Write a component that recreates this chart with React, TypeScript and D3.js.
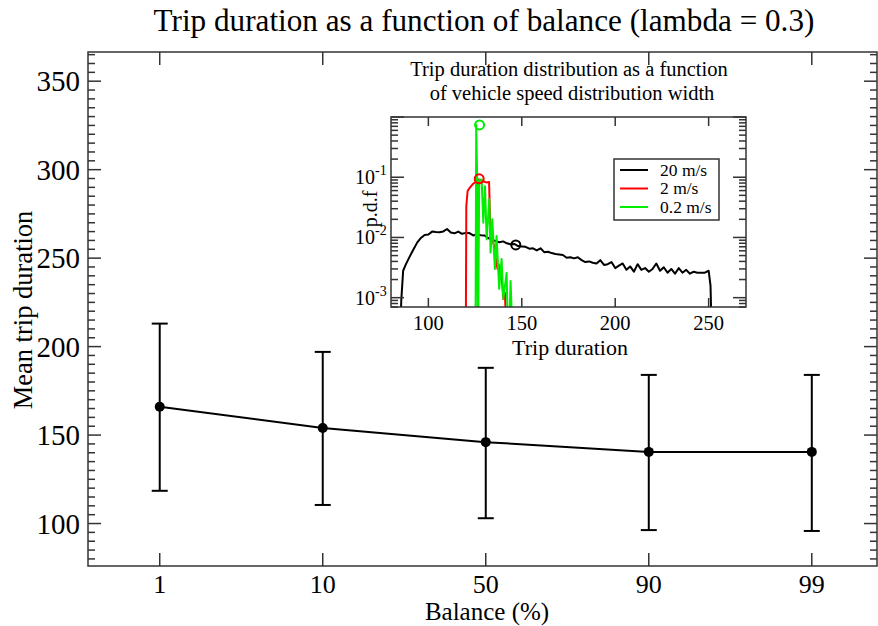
import React, { useEffect, useRef } from "react"
import * as d3 from "d3"

// main chart data
const balances = ["1", "10", "50", "90", "99"]
const meanDuration = [166, 154, 146, 140.5, 140.5]
const upperDuration = [213, 197, 188, 184, 184]
const lowerDuration = [118.5, 110.5, 103, 96.3, 95.8]
const yTicks = [100, 150, 200, 250, 300, 350]

// inset data: [trip duration, p.d.f]
const pdf20: [number, number][] = [
  [84.5, 1e-4], [85.5, 0.0009], [86.5, 0.0028], [88, 0.0036], [90, 0.0048], [92, 0.0063],
  [94, 0.0082], [96, 0.0098], [98, 0.011], [100, 0.0112], [102, 0.0125], [104, 0.0123],
  [106, 0.0122], [108, 0.0126], [110, 0.0138], [112, 0.0121], [114, 0.0117], [116, 0.0125],
  [118, 0.0115], [120, 0.0119], [122, 0.0118], [124, 0.0108], [126, 0.0113], [128, 0.0109],
  [130, 0.0108], [132, 0.0098], [134, 0.0092], [136, 0.0087], [138, 0.0083], [140, 0.0086],
  [142, 0.008], [144, 0.0077], [146, 0.0078], [148, 0.0072], [150, 0.0071], [152, 0.007],
  [154, 0.0065], [156, 0.0066], [158, 0.0061], [160, 0.0066], [162, 0.0057], [164, 0.0058],
  [166, 0.0055], [168, 0.0053], [170, 0.0052], [172, 0.0051], [174, 0.0046], [176, 0.0047],
  [178, 0.0045], [180, 0.0047], [182, 0.0042], [184, 0.0039], [186, 0.004], [188, 0.0038],
  [190, 0.0037], [192, 0.0042], [194, 0.0035], [196, 0.0036], [198, 0.0039], [200, 0.0031],
  [202, 0.0034], [204, 0.0037], [206, 0.0029], [208, 0.0033], [210, 0.0027], [212, 0.0036],
  [214, 0.0029], [216, 0.0031], [218, 0.0027], [220, 0.003], [222, 0.0037], [224, 0.0028],
  [226, 0.0032], [228, 0.0026], [230, 0.003], [232, 0.0025], [234, 0.0031], [236, 0.0026],
  [238, 0.0029], [240, 0.0025], [242, 0.0027], [244, 0.0026], [246, 0.0026], [248, 0.0026],
  [250, 0.0028], [251, 0.0016], [252, 1e-4],
]
const pdf2: [number, number][] = [
  [120, 1e-4], [120.3, 0.033], [121, 0.059], [122, 0.066], [123, 0.072], [124, 0.078],
  [125, 0.082], [126, 0.088], [127, 0.092], [128, 0.088], [129, 0.086], [130, 0.084],
  [131, 0.082], [132.5, 0.083], [133.2, 0.0106], [134, 0.0095], [135.3, 0.0072],
  [136, 0.0045], [137, 0.003], [137.6, 0.0036], [138.4, 0.0021], [139.2, 0.0024],
  [140.1, 0.00095], [141, 0.0012], [142, 1e-4],
]
const pdf02: [number, number][] = [
  [125.2, 1e-4], [125.6, 0.74], [126.1, 0.1], [126.6, 1e-4], [127.2, 0.09], [128.5, 0.092],
  [129.4, 0.0176], [130.3, 0.071], [131.2, 0.0093], [132.6, 0.043], [133.3, 0.0056],
  [134.2, 0.02], [135.6, 0.003], [136.5, 0.0106], [137.9, 0.0014], [139.2, 0.0044],
  [140.1, 0.00095], [141.9, 0.0026], [142.8, 1e-4], [144, 0.0019], [145.5, 1e-4],
]
const meanMarkers: [number, number, string][] = [
  [146.8, 0.0075, "#000000"],
  [127.2, 0.094, "#ff0000"],
  [127.4, 0.74, "#00ee00"],
]
const legendItems = [
  { label: "20 m/s", color: "#000000" },
  { label: "2 m/s", color: "#ff0000" },
  { label: "0.2 m/s", color: "#00ee00" },
]
const insetXTicks = [100, 150, 200, 250]
const insetYTicks = [-3, -2, -1]

const font = "'Liberation Serif', 'Times New Roman', serif"

const App = () => {
  const chart = useRef<SVGSVGElement | null>(null)

  useEffect(() => {
    const svg = d3.select(chart.current)
    svg.selectAll("*").remove()

    const frameColor = "#333"
    const m = { left: 88, right: 877, top: 52, bottom: 566 }

    const x = d3.scaleLinear().domain([0.56, 5.4]).range([m.left, m.right])
    const y = d3.scaleLinear().domain([76, 366.5]).range([m.bottom, m.top])

    // title
    svg
      .append("text")
      .attr("x", 484)
      .attr("y", 31)
      .attr("text-anchor", "middle")
      .attr("font-size", 31.2)
      .text("Trip duration as a function of balance (lambda = 0.3)")

    // frame
    svg
      .append("rect")
      .attr("x", m.left)
      .attr("y", m.top)
      .attr("width", m.right - m.left)
      .attr("height", m.bottom - m.top)
      .attr("fill", "none")
      .attr("stroke", frameColor)
      .attr("stroke-width", 1.5)

    // y ticks (major + minor, both sides, inward)
    const g = svg.append("g").attr("stroke", frameColor).attr("stroke-width", 1.5)
    for (const v of d3.range(80, 366, 5)) {
      const major = v % 50 === 0
      const len = major ? 13 : 7
      g.append("line").attr("x1", m.left).attr("x2", m.left + len).attr("y1", y(v)).attr("y2", y(v))
      g.append("line").attr("x1", m.right).attr("x2", m.right - len).attr("y1", y(v)).attr("y2", y(v))
    }
    balances.forEach((b, i) => {
      g.append("line").attr("x1", x(i + 1)).attr("x2", x(i + 1)).attr("y1", m.bottom).attr("y2", m.bottom - 13)
      g.append("line").attr("x1", x(i + 1)).attr("x2", x(i + 1)).attr("y1", m.top).attr("y2", m.top + 13)
    })

    svg
      .append("g")
      .selectAll("text")
      .data(yTicks)
      .join("text")
      .attr("x", 80)
      .attr("y", (d) => y(d) + 10)
      .attr("text-anchor", "end")
      .attr("font-size", 29)
      .text((d) => d)

    svg
      .append("g")
      .selectAll("text")
      .data(balances)
      .join("text")
      .attr("x", (d, i) => x(i + 1))
      .attr("y", 593)
      .attr("text-anchor", "middle")
      .attr("font-size", 26)
      .text((d) => d)

    svg
      .append("text")
      .attr("x", 487)
      .attr("y", 620)
      .attr("text-anchor", "middle")
      .attr("font-size", 25)
      .text("Balance (%)")

    svg
      .append("text")
      .attr("transform", `translate(32,310) rotate(-90)`)
      .attr("text-anchor", "middle")
      .attr("font-size", 26.5)
      .text("Mean trip duration")

    // error bars
    const eb = svg.append("g").attr("stroke", "#000").attr("stroke-width", 2)
    balances.forEach((b, i) => {
      const cx = x(i + 1)
      eb.append("line").attr("x1", cx).attr("x2", cx).attr("y1", y(upperDuration[i])).attr("y2", y(lowerDuration[i]))
      eb.append("line").attr("x1", cx - 8).attr("x2", cx + 8).attr("y1", y(upperDuration[i])).attr("y2", y(upperDuration[i]))
      eb.append("line").attr("x1", cx - 8).attr("x2", cx + 8).attr("y1", y(lowerDuration[i])).attr("y2", y(lowerDuration[i]))
    })

    const line = d3
      .line<number>()
      .x((d, i) => x(i + 1))
      .y((d) => y(d))
    svg
      .append("path")
      .attr("d", line(meanDuration))
      .attr("fill", "none")
      .attr("stroke", "#000")
      .attr("stroke-width", 2)

    svg
      .append("g")
      .selectAll("circle")
      .data(meanDuration)
      .join("circle")
      .attr("cx", (d, i) => x(i + 1))
      .attr("cy", (d) => y(d))
      .attr("r", 5)
      .attr("fill", "#000")

    // ---------- inset ----------
    const im = { left: 391, right: 746, top: 117, bottom: 307 }
    const ix = d3.scaleLinear().domain([80, 270]).range([im.left, im.right])
    const iy = d3.scaleLog().domain([7e-4, 1]).range([im.bottom, im.top])

    svg
      .append("rect")
      .attr("x", im.left)
      .attr("y", im.top)
      .attr("width", im.right - im.left)
      .attr("height", im.bottom - im.top)
      .attr("fill", "#fff")

    svg
      .append("text")
      .attr("x", 569)
      .attr("y", 76)
      .attr("text-anchor", "middle")
      .attr("font-size", 20.5)
      .text("Trip duration distribution as a function")
    svg
      .append("text")
      .attr("x", 572)
      .attr("y", 100)
      .attr("text-anchor", "middle")
      .attr("font-size", 20.5)
      .text("of vehicle speed distribution width")

    svg
      .append("defs")
      .append("clipPath")
      .attr("id", "inset-clip")
      .append("rect")
      .attr("x", im.left)
      .attr("y", im.top)
      .attr("width", im.right - im.left)
      .attr("height", im.bottom - im.top)

    const curves = svg.append("g").attr("clip-path", "url(#inset-clip)")
    const pdfLine = d3
      .line<[number, number]>()
      .x((d) => ix(d[0]))
      .y((d) => iy(d[1]))
    ;[
      { data: pdf20, color: "#000000" },
      { data: pdf2, color: "#ff0000" },
      { data: pdf02, color: "#00ee00" },
    ].forEach((s) => {
      curves
        .append("path")
        .attr("d", pdfLine(s.data))
        .attr("fill", "none")
        .attr("stroke", s.color)
        .attr("stroke-width", 2)
        .attr("stroke-linejoin", "round")
    })
    curves
      .selectAll("circle")
      .data(meanMarkers)
      .join("circle")
      .attr("cx", (d) => ix(d[0]))
      .attr("cy", (d) => iy(d[1]))
      .attr("r", 4.5)
      .attr("fill", "none")
      .attr("stroke", (d) => d[2])
      .attr("stroke-width", 2)

    svg
      .append("rect")
      .attr("x", im.left)
      .attr("y", im.top)
      .attr("width", im.right - im.left)
      .attr("height", im.bottom - im.top)
      .attr("fill", "none")
      .attr("stroke", frameColor)
      .attr("stroke-width", 1.5)

    const it = svg.append("g").attr("stroke", frameColor).attr("stroke-width", 1.5)
    for (const v of insetXTicks) {
      it.append("line").attr("x1", ix(v)).attr("x2", ix(v)).attr("y1", im.bottom).attr("y2", im.bottom - 9)
      it.append("line").attr("x1", ix(v)).attr("x2", ix(v)).attr("y1", im.top).attr("y2", im.top + 9)
    }
    for (let e = -4; e <= 0; e++) {
      for (let k = 1; k <= 9; k++) {
        const v = k * Math.pow(10, e)
        if (v < 7e-4 || v > 1) continue
        const len = k === 1 ? 13 : 7
        it.append("line").attr("x1", im.left).attr("x2", im.left + len).attr("y1", iy(v)).attr("y2", iy(v))
        it.append("line").attr("x1", im.right).attr("x2", im.right - len).attr("y1", iy(v)).attr("y2", iy(v))
      }
    }

    svg
      .append("g")
      .selectAll("text")
      .data(insetXTicks)
      .join("text")
      .attr("x", (d) => ix(d))
      .attr("y", 330)
      .attr("text-anchor", "middle")
      .attr("font-size", 20.5)
      .text((d) => d)

    const yl = svg.append("g").selectAll("g").data(insetYTicks).join("g")
    yl.append("text")
      .attr("x", 375)
      .attr("y", (d) => iy(Math.pow(10, d)) + 7)
      .attr("text-anchor", "end")
      .attr("font-size", 20)
      .text("10")
    yl.append("text")
      .attr("x", 375)
      .attr("y", (d) => iy(Math.pow(10, d)) - 2)
      .attr("font-size", 14)
      .text((d) => `${d}`)

    svg
      .append("text")
      .attr("x", 570)
      .attr("y", 355)
      .attr("text-anchor", "middle")
      .attr("font-size", 22)
      .text("Trip duration")

    svg
      .append("text")
      .attr("transform", `translate(377,209) rotate(-90)`)
      .attr("text-anchor", "middle")
      .attr("font-size", 20)
      .text("p.d.f")

    // legend
    const lg = svg.append("g")
    lg.append("rect")
      .attr("x", 614)
      .attr("y", 159)
      .attr("width", 105)
      .attr("height", 61)
      .attr("fill", "#fff")
      .attr("stroke", frameColor)
      .attr("stroke-width", 1.5)
    legendItems.forEach((d, i) => {
      const ly = 170 + i * 18.5
      lg.append("line")
        .attr("x1", 620)
        .attr("x2", 648)
        .attr("y1", ly)
        .attr("y2", ly)
        .attr("stroke", d.color)
        .attr("stroke-width", 2)
      lg.append("text")
        .attr("x", 660)
        .attr("y", ly + 5.5)
        .attr("font-size", 17.5)
        .text(d.label)
    })
  }, [])

  return (
    <svg
      ref={chart}
      width={878}
      height={626}
      style={{ position: "absolute", left: 0, top: 0, background: "#fff", fontFamily: font }}
    ></svg>
  )
}

export default App
